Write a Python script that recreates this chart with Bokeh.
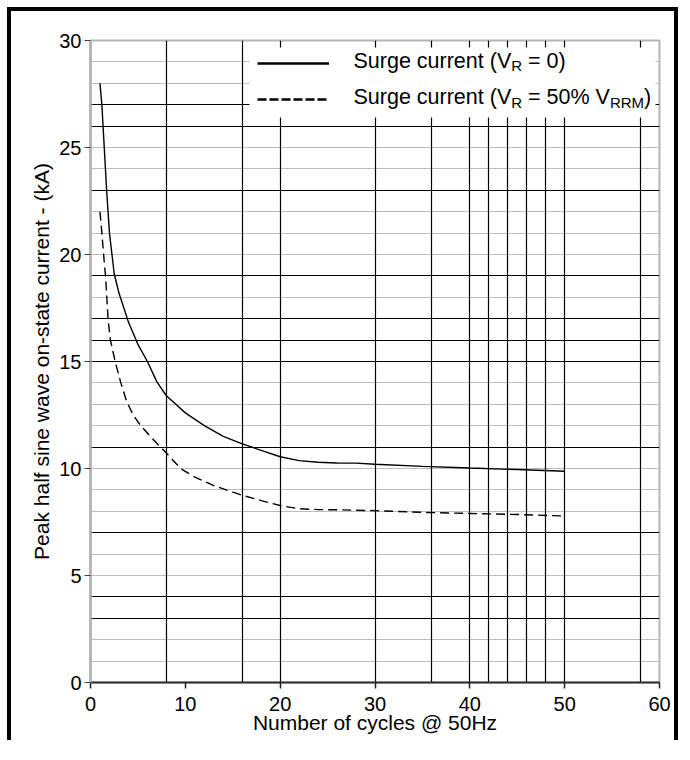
import numpy as np
from bokeh.plotting import figure
from bokeh.layouts import row, column
from bokeh.models import (FixedTicker, Grid, Legend, LegendItem, Label, Range1d, BoxAnnotation,
                          Div, Spacer)
from bokeh.embed import file_html
from bokeh.resources import INLINE

# ---- data ----
cycles_vr0 = [1, 1.2, 1.5, 1.7, 2, 2.5, 3, 4, 5, 6, 7, 8, 9, 10, 12, 14, 16, 18, 20,
              22, 24, 26, 28, 30, 35, 40, 45, 50]
surge_vr0 = [28, 27, 24.6, 23, 21, 19.1, 18.2, 16.85, 15.8, 15, 14.05, 13.4, 13.0, 12.6,
             12.0, 11.5, 11.15, 10.85, 10.55, 10.37, 10.29, 10.26, 10.25, 10.2, 10.1,
             10.02, 9.95, 9.87]
cycles_vr50 = [1, 1.2, 1.4, 1.6, 1.85, 2.1, 2.6, 3.2, 3.8, 4.5, 5.3, 6.3, 7.4, 8, 9.5,
               11, 13, 16, 18, 20, 22, 24, 26, 30, 35, 40, 45, 50]
surge_vr50 = [22, 21, 19.9, 18.9, 17, 16, 15, 14, 13.15, 12.5, 12, 11.5, 11, 10.72, 10,
              9.6, 9.2, 8.75, 8.5, 8.27, 8.12, 8.08, 8.07, 8.03, 7.95, 7.9, 7.85, 7.78]

x_ticks = [0, 10, 20, 30, 40, 50, 60]
y_ticks = [0, 5, 10, 15, 20, 25, 30]
x_grid_dark = [8, 16, 20, 30, 36, 40, 42, 44, 46, 48, 50, 58]
y_grid_dark = [3, 4, 7, 11, 15, 16, 17, 19, 23, 26, 27]
y_grid_light = [1, 2, 5, 6, 8, 9, 10, 12, 13, 14, 18, 20, 21, 22, 24, 25, 28, 29]

# legend text pieces, alternating normal / subscript
legend_vr0 = ["Surge current (V", "R", " = 0)"]
legend_vr50 = ["Surge current (V", "R", " = 50% V", "RRM", ")"]

FONT = "Liberation Sans"
MAIN_PX = 21.5
SUB_PX = 15.0

# Liberation Sans (Arial metrics) advance widths, 1/1000 em
ADV = {'S': 667, 'u': 556, 'r': 333, 'g': 556, 'e': 556, ' ': 278, 'c': 500, 'n': 556,
       't': 278, '(': 333, 'V': 667, 'R': 722, '=': 584, '0': 556, '5': 556, '%': 889,
       'M': 833, ')': 333}


def text_width(s, px):
    return sum(ADV.get(ch, 556) for ch in s) / 1000.0 * px


# ---- page geometry (black page frame: 7 px in, 4 px thick) ----
TOTAL_W, TOTAL_H = 678, 740
OFF, BAR = 7, 4
BODY_H = TOTAL_H - OFF - BAR
WP = TOTAL_W - OFF - 2 * BAR
FL, FT = 90 - OFF - BAR, 40 - OFF - BAR
frame_w, frame_h = 569, 642
FR = WP - FL - frame_w
FB = BODY_H - FT - frame_h

p = figure(width=WP, height=BODY_H, x_range=Range1d(0, 60), y_range=Range1d(0, 30),
           output_backend="svg", toolbar_location=None, margin=0,
           min_border_left=FL, min_border_right=FR, min_border_top=FT, min_border_bottom=FB)

p.background_fill_color = "white"
p.border_fill_color = "white"
p.outline_line_color = "#b5b5b5"
p.outline_line_width = 2

# grids
p.xgrid.visible = False
p.ygrid.visible = False
p.add_layout(Grid(dimension=1, ticker=FixedTicker(ticks=y_grid_light),
                  grid_line_color="#bdbdbd", grid_line_width=1.2))
p.add_layout(Grid(dimension=1, ticker=FixedTicker(ticks=y_grid_dark),
                  grid_line_color="black", grid_line_width=1.2))
p.add_layout(Grid(dimension=0, ticker=FixedTicker(ticks=x_grid_dark),
                  grid_line_color="black", grid_line_width=1.2))

# white legend backdrop (covers the grid under the legend)
p.add_layout(BoxAnnotation(left=159, right=565, top=frame_h - 7, bottom=frame_h - 77,
                           left_units="screen", right_units="screen",
                           top_units="screen", bottom_units="screen",
                           fill_color="white", fill_alpha=1.0, line_color=None,
                           level="underlay"))

# axes
for ax in (p.xaxis[0], p.yaxis[0]):
    ax.minor_tick_line_color = None
    ax.major_tick_in = 0
    ax.major_tick_out = 6
    ax.major_label_text_font = FONT
    ax.major_label_text_font_size = "20px"
    ax.major_label_text_color = "black"
    ax.axis_label_text_font = FONT
    ax.axis_label_text_font_size = "21px"
    ax.axis_label_text_font_style = "normal"
    ax.axis_label_text_color = "black"

p.xaxis.ticker = FixedTicker(ticks=x_ticks)
p.yaxis.ticker = FixedTicker(ticks=y_ticks)
p.xaxis.axis_label = "Number of cycles @ 50Hz"
p.yaxis.axis_label = "Peak half sine wave on-state current - (kA)"
p.xaxis.axis_line_color = "#303030"
p.xaxis.axis_line_width = 2
p.xaxis.major_tick_line_color = "#202020"
p.xaxis.major_tick_line_width = 1.5
p.yaxis.axis_line_color = "#b0b0b0"
p.yaxis.axis_line_width = 2.5
p.yaxis.major_tick_line_color = "#404040"
p.yaxis.major_tick_line_width = 1.2
p.xaxis.major_label_standoff = 8
p.xaxis.axis_label_standoff = -3
p.yaxis.major_label_standoff = 3
p.yaxis.axis_label_standoff = 3

# curves
p.line(cycles_vr0, surge_vr0, line_color="black", line_width=1.4)
p.line(cycles_vr50, surge_vr50, line_color="black", line_width=1.4, line_dash="9 5")

# legend sample renderers (own styling, nothing drawn in the plot)
nan1 = np.array([np.nan])
r_leg0 = p.line(nan1, nan1, line_color="black", line_width=2.6)
r_leg50 = p.line(nan1, nan1, line_color="black", line_width=2.6, line_dash="9 3")

MARGIN = 10
PAD, GW, STANDOFF = 12, 72, 25
ROW_H, ROW_GAP = 26, 10
LABEL_W = 295
legend = Legend(items=[LegendItem(label=" ", renderers=[r_leg0]),
                       LegendItem(label=" ", renderers=[r_leg50])],
                location="top_right", margin=MARGIN,
                padding=PAD, glyph_width=GW, glyph_height=ROW_H, label_height=ROW_H,
                label_standoff=STANDOFF, label_width=LABEL_W, spacing=ROW_GAP,
                border_line_color=None, background_fill_alpha=0.0,
                label_text_font=FONT, label_text_font_size=f"{MAIN_PX}px")
p.add_layout(legend, "center")

# legend texts with subscripts
TEXT_X = 263
BASELINES = [frame_h - 20, frame_h - 56.5]


def add_pieces(pieces, y):
    x = TEXT_X
    for i, piece in enumerate(pieces):
        is_sub = (i % 2 == 1)
        size = SUB_PX if is_sub else MAIN_PX
        lead = len(piece) - len(piece.lstrip(" "))
        p.add_layout(Label(x=x + text_width(piece[:lead], size),
                           y=y - (5 if is_sub else 0), x_units="screen", y_units="screen",
                           text=piece.strip(" "), text_font=FONT, text_font_size=f"{size}px",
                           text_color="black", text_baseline="alphabetic", text_align="left",
                           level="overlay"))
        x += text_width(piece, size)


add_pieces(legend_vr0, BASELINES[0])
add_pieces(legend_vr50, BASELINES[1])

# black page frame (left, top and right edges) as solid blocks around the figure
BLACK = {"background-color": "black"}


def bar(w, h):
    return Div(text="", width=w, height=h, margin=0, styles=BLACK)


def gap(w, h):
    return Spacer(width=w, height=h, margin=0)


top_band = column(gap(TOTAL_W, OFF),
                  row(gap(OFF, BAR), bar(TOTAL_W - OFF, BAR), spacing=0, margin=0),
                  spacing=0, margin=0)
body = row(gap(OFF, BODY_H), bar(BAR, BODY_H), p, bar(BAR, BODY_H), spacing=0, margin=0)
layout = column(top_band, body, spacing=0, margin=0)

open("out.html", "w").write(file_html(layout, INLINE))
